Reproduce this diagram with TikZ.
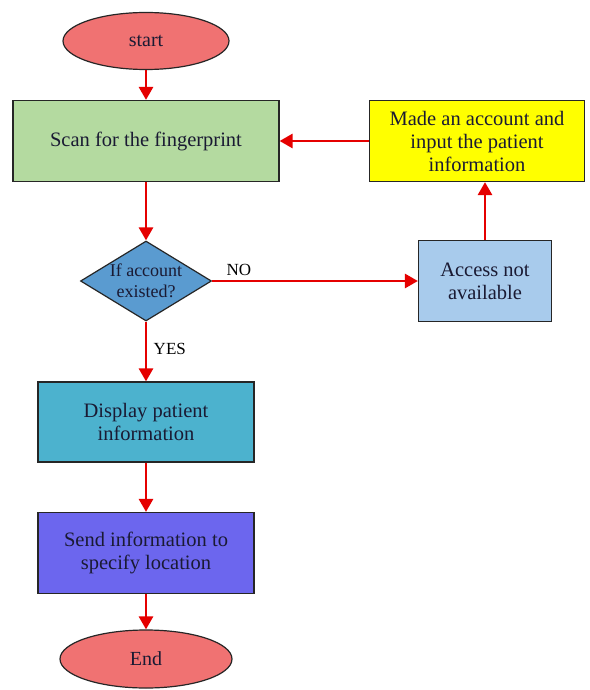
\documentclass[tikz,border=0pt]{standalone}
\usepackage{fontspec}
\setmainfont{Liberation Serif}
\usetikzlibrary{shapes.geometric,arrows.meta}

\definecolor{termred}{HTML}{F07272}
\definecolor{scangreen}{HTML}{B4DAA0}
\definecolor{makeyellow}{HTML}{FFFF00}
\definecolor{askblue}{HTML}{5A9BD0}
\definecolor{accessblue}{HTML}{A8CBEC}
\definecolor{showteal}{HTML}{4CB2CE}
\definecolor{sendpurple}{HTML}{6C66EE}
\definecolor{inkblue}{HTML}{1A1A33}

\begin{document}
\begin{tikzpicture}[x=1pt,y=-1pt,
  term/.style={ellipse,draw=black!85,line width=1.2pt,fill=termred,
    minimum width=#1,minimum height=57pt,inner sep=0pt,
    font=\fontsize{20}{23}\selectfont,text=inkblue},
  stepbox/.style={rectangle,draw=black!85,line width=1.2pt,
    minimum height=81pt,inner sep=0pt,align=center,
    font=\fontsize{20.5}{23}\selectfont,text=inkblue},
  ask/.style={diamond,draw=black!85,line width=1.2pt,fill=askblue,
    minimum width=131pt,minimum height=80pt,inner sep=0pt,aspect=1.64,
    align=center,font=\fontsize{18}{21}\selectfont,text=inkblue},
  flow/.style={draw=red!90!black,line width=2.8pt,
    -{Triangle[length=13pt,width=14pt]}},
  tag/.style={font=\fontsize{17}{19}\selectfont,text=black}]
\useasboundingbox[fill=white] (0,0) rectangle (589,690);

\node[term=166pt] (start) at (146,41) {start};
\node[stepbox,fill=scangreen,minimum width=266pt] (scan) at (146,141)
  {Scan for the fingerprint};
\node[stepbox,fill=makeyellow,minimum width=215pt] (make) at (477,141)
  {Made an account and\\input the patient\\information};
\node[ask,minimum width=131pt,minimum height=80pt] (check) at (146,281)
  {If account\\existed?};
\node[stepbox,fill=accessblue,minimum width=133pt] (access) at (485,281)
  {Access not\\available};
\node[stepbox,fill=showteal,minimum width=216pt,minimum height=80pt] (show) at (146,422)
  {Display patient\\information};
\node[stepbox,fill=sendpurple,minimum width=216pt] (send) at (146,553)
  {Send information to\\specify location};
\node[term=172pt,minimum height=58pt] (stop) at (146,659) {End};

\draw[flow] (start) -- (scan);
\draw[flow] (scan) -- (check);
\draw[flow] (check) -- node[tag,pos=0.45,right=3pt] {YES} (show);
\draw[flow] (show) -- (send);
\draw[flow] (send) -- (stop);
\draw[flow] (check.east) -- node[tag,pos=0.13,above=1pt] {NO} (access.west);
\draw[flow] (access.north) -- (access.north |- make.south);
\draw[flow] (make.west) -- (scan.east);
\end{tikzpicture}
\end{document}
